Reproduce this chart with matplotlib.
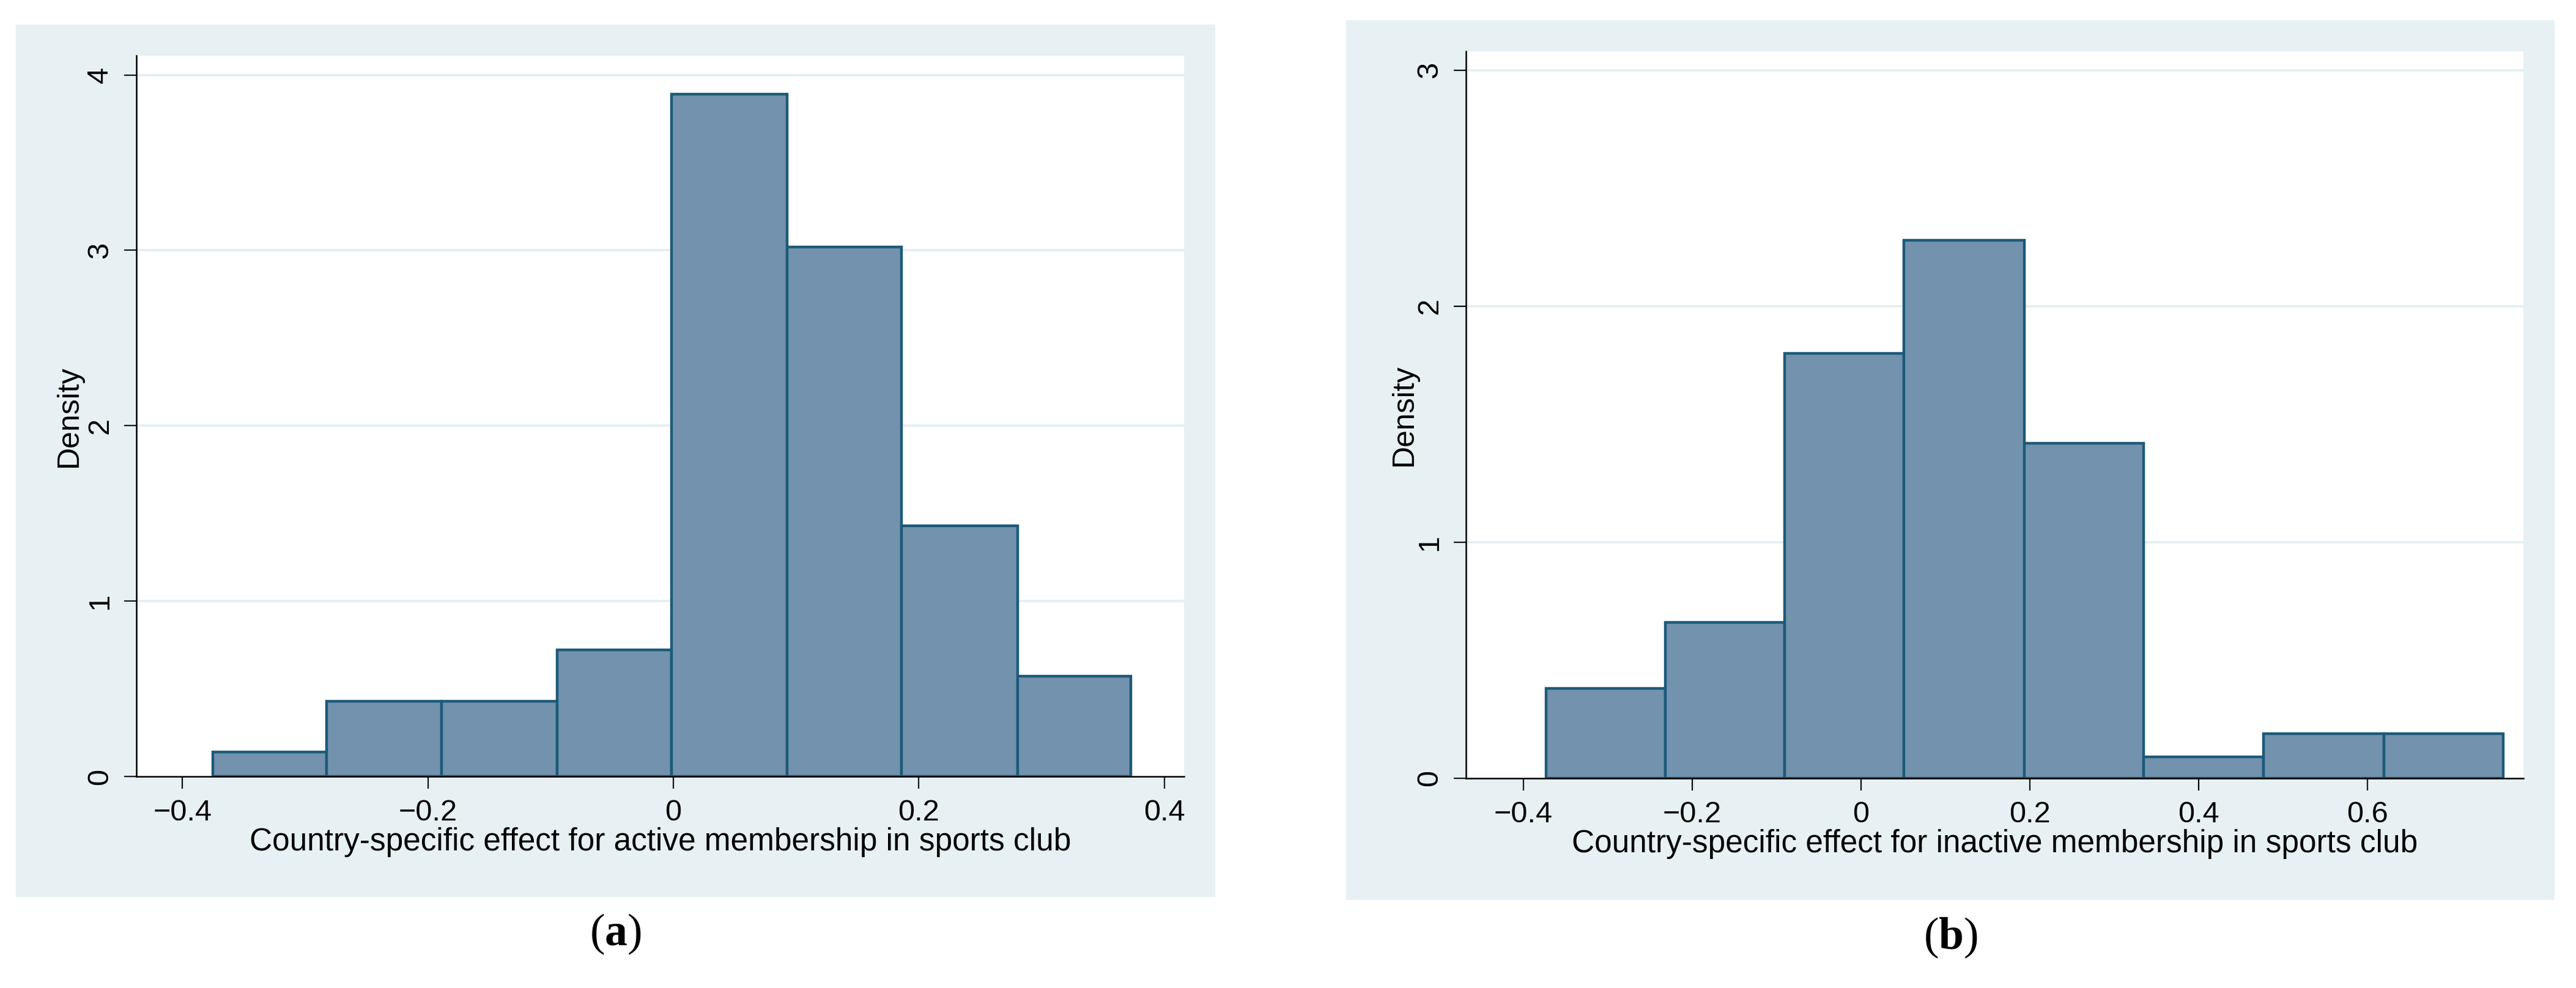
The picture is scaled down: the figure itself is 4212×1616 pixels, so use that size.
import matplotlib
matplotlib.use('Agg')
import matplotlib.pyplot as plt
from matplotlib.patches import Rectangle

plt.rcParams['font.family'] = ['Liberation Sans', 'DejaVu Sans']
plt.rcParams['mathtext.fontset'] = 'custom'
plt.rcParams['mathtext.rm'] = 'Liberation Serif'
plt.rcParams['mathtext.bf'] = 'Liberation Serif:bold'

# histogram (a): active membership
edges_a = [-0.375, -0.2825, -0.189, -0.0947, -0.0015, 0.0927, 0.186, 0.2805, 0.3727]
dens_a = [0.14, 0.43, 0.43, 0.72, 3.89, 3.02, 1.43, 0.57]
xticks_a = [-0.4, -0.2, 0, 0.2, 0.4]
yticks_a = [0, 1, 2, 3, 4]
xlabel_a = 'Country-specific effect for active membership in sports club'

# histogram (b): inactive membership
edges_b = [-0.373, -0.232, -0.0906, 0.0511, 0.1935, 0.3353, 0.4768, 0.6196, 0.761]
dens_b = [0.38, 0.66, 1.80, 2.28, 1.42, 0.09, 0.19, 0.19]
xticks_b = [-0.4, -0.2, 0, 0.2, 0.4, 0.6]
yticks_b = [0, 1, 2, 3]
xlabel_b = 'Country-specific effect for inactive membership in sports club'

W, H = 4212, 1616
DPI = 200
fig = plt.figure(figsize=(W/DPI, H/DPI), dpi=DPI)

BG = '#e7f1f3'
FILL = '#7392ad'
EDGE = '#1c5a7a'
GRID = '#e3eef1'

def px_rect(x0, y0, x1, y1):
    # pixel box (top-left origin) -> figure fraction [l, b, w, h]
    return [x0/W, 1 - y1/H, (x1-x0)/W, (y1-y0)/H]

def lab(x, letter, y):
    fig.text(x/W, 1 - y/H, '(' + r'$\mathbf{' + letter + '}$' + ')',
             ha='center', va='center', fontsize=26.5, family='Liberation Serif')

def panel(bg, box, edges, dens, xt, yt, xl, ylim_top, xlim, dens_x):
    l, b, w, h = px_rect(*bg)
    fig.patches.append(Rectangle((l, b), w, h, transform=fig.transFigure,
                                 facecolor=BG, edgecolor='none', zorder=-10))
    ax = fig.add_axes(px_rect(*box))
    ax.set_zorder(2)
    ax.set_facecolor('white')
    widths = [edges[i+1]-edges[i] for i in range(len(dens))]
    ax.bar(edges[:-1], dens, width=widths, align='edge', color=FILL,
           edgecolor=EDGE, linewidth=1.6, zorder=3)
    ax.set_xlim(*xlim)
    ax.set_ylim(0, ylim_top)
    ax.set_xticks(xt)
    ax.set_xticklabels(['0' if v == 0 else ('%g' % v).replace('-', '\u2212') for v in xt])
    ax.set_yticks(yt)
    ax.set_yticklabels([str(v) for v in yt], rotation=90, va='center')
    for v in yt[1:]:
        ax.axhline(v, color=GRID, linewidth=1.3, zorder=1)
    for s in ['top', 'right']:
        ax.spines[s].set_visible(False)
    for s in ['left', 'bottom']:
        ax.spines[s].set_linewidth(0.9)
        ax.spines[s].set_color('black')
        ax.spines[s].set_zorder(4)
    ax.tick_params(axis='both', length=7.2, width=0.8, labelsize=17.5, pad=6)
    ax.set_xlabel(xl, fontsize=18.5)
    ax.xaxis.set_label_coords(0.5, -0.07)
    ax.set_ylabel('Density', fontsize=18)
    ax.yaxis.set_label_coords(dens_x, 0.5)
    return ax

panel((26, 40, 1987, 1467), (223, 91, 1936, 1270), edges_a, dens_a,
      xticks_a, yticks_a, xlabel_a, 4.11, (-0.4375, 0.416), -0.051)
panel((2201, 33, 4177, 1472), (2397, 84, 4126, 1273), edges_b, dens_b,
      xticks_b, yticks_b, xlabel_b, 3.08, (-0.468, 0.785), -0.045)

lab(1006, 'a', 1528)
lab(3189, 'b', 1534)

fig.savefig('out.png', dpi=DPI, facecolor='white')
